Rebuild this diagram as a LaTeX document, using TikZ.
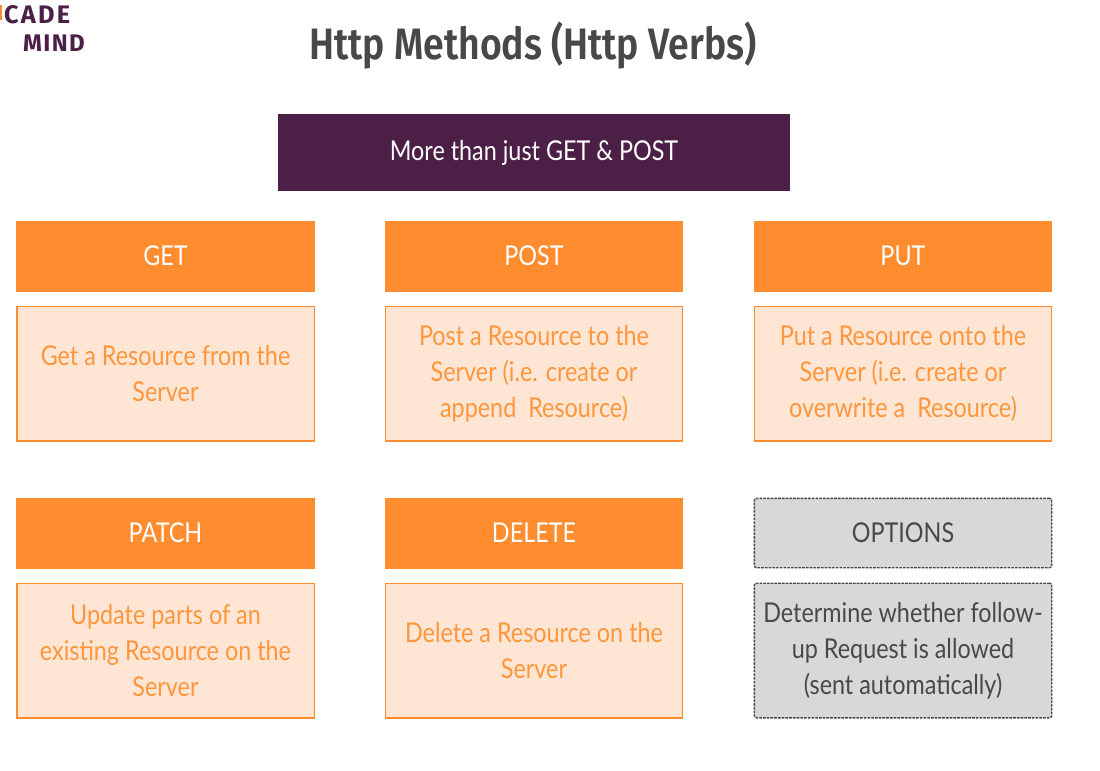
\documentclass[tikz,border=0pt]{standalone}
\usepackage{fontspec}
\setmainfont[FakeStretch=0.855]{Lato}
\newfontfamily\heavy[FakeStretch=0.85]{Fira Sans SemiBold}
\newfontfamily\logofont[LetterSpace=9]{Fira Sans}
\newfontfamily\logofontb[LetterSpace=6]{Fira Sans}
\definecolor{orangeM}{HTML}{FF8C2E}
\definecolor{orangeL}{HTML}{FFE6D4}
\definecolor{orangeT}{HTML}{FF963C}
\definecolor{purpleM}{HTML}{4C1F46}
\definecolor{grayM}{HTML}{D8D8D8}
\definecolor{grayT}{HTML}{484848}
\tikzset{
 x=0.75pt,y=-0.75pt,
 every node/.style={inner sep=0pt,outer sep=0pt,align=center,font=\fontsize{20.5}{27}\selectfont},
 head/.style={fill=orangeM,text=white,minimum width=223.5pt,minimum height=53.25pt},
 bodybox/.style={fill=orangeL,draw=orangeM,line width=1pt,text=orangeT,minimum width=223pt,minimum height=101pt},
 gdash/.style={fill=grayM,draw=grayT,dash pattern=on 2pt off 0.8pt,line width=1pt,rounded corners=1.5pt,text=grayT},
 ghead/.style={gdash,minimum width=223pt,minimum height=52pt},
 gbody/.style={gdash,minimum width=223pt,minimum height=101pt},
}
\begin{document}
\begin{tikzpicture}
\useasboundingbox[fill=white] (0,0) rectangle (1100,771);
\fill[orangeM] (0,5) rectangle (2,20);
\node[font=\heavy\fontsize{33}{36}\selectfont,text=grayT] (title) at (533,46) {Http Methods (Http Verbs)};
\node[font=\logofont\fontsize{19}{20}\selectfont\bfseries,text=purpleM,anchor=west] (l1) at (4,15) {CADE};
\node[font=\logofontb\fontsize{18}{20}\selectfont\bfseries,text=purpleM,anchor=west] (l2) at (23,43) {MIND};
\node[fill=purpleM,text=white,minimum width=383.5pt,minimum height=57.5pt] (top) at (534,152.5) {\raisebox{-2pt}{More than just GET \& POST}};
\node[head,minimum width=224.5pt] (h1) at (165.5,256) {GET};
\node[head] (h2) at (534,256) {POST};
\node[head] (h3) at (903,256) {PUT};
\node[bodybox] (b1) at (165.5,373.5) {Get a Resource from the\\Server};
\node[bodybox] (b2) at (534,373.5) {Post a Resource to the\\Server (i.e. create or\\append\ \ Resource)};
\node[bodybox] (b3) at (903,373.5) {Put a Resource onto the\\Server (i.e. create or\\overwrite a\ \ Resource)};
\node[head,minimum width=224.5pt] (h4) at (165.5,533) {PATCH};
\node[head] (h5) at (534,533) {DELETE};
\node[ghead] (h6) at (903,533) {OPTIONS};
\node[bodybox] (b4) at (165.5,650.5) {Update parts of an\\existing Resource on the\\Server};
\node[bodybox] (b5) at (534,650.5) {Delete a Resource on the\\Server};
\node[gbody] (b6) at (903,650.5) {Determine whether follow-\\up Request is allowed\\(sent automatically)};
\end{tikzpicture}
\end{document}
